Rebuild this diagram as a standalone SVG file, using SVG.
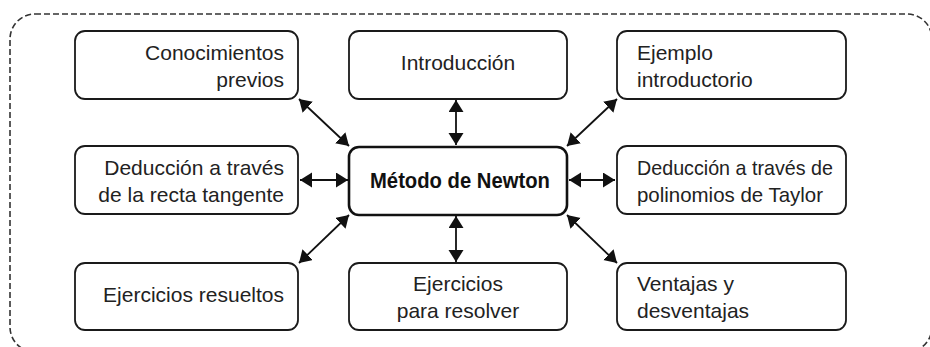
<svg xmlns="http://www.w3.org/2000/svg" width="930" height="347" viewBox="0 0 930 347">
<defs>
<style>
.frame{fill:none;stroke:#333;stroke-width:1.6;stroke-dasharray:6 3}
.box{fill:#fff;stroke:#1a1a1a;stroke-width:1.8}
.main{fill:#fff;stroke:#111;stroke-width:2.6}
.t{font-family:"Liberation Sans",Arial,sans-serif;font-size:21px;fill:#222}
.b{font-family:"Liberation Sans",Arial,sans-serif;font-size:21.5px;font-weight:bold;fill:#111}
.r{text-anchor:end}
.c{text-anchor:middle}
.conn{stroke:#111;stroke-width:1.8;fill:none;marker-start:url(#ah);marker-end:url(#ah)}
</style>
<marker id="ah" markerUnits="userSpaceOnUse" markerWidth="13" markerHeight="16" refX="12" refY="7.5" orient="auto-start-reverse">
<path d="M0,0 L12,7.5 L0,15 z" fill="#111"/>
</marker>
</defs>
<rect class="frame" x="10" y="14" width="922" height="338" rx="25"/>
<g id="connectors">
<line class="conn" x1="299" y1="99" x2="349" y2="146"/>
<line class="conn" x1="456" y1="100" x2="456" y2="145"/>
<line class="conn" x1="617" y1="99" x2="567" y2="146"/>
<line class="conn" x1="300" y1="180" x2="348" y2="180"/>
<line class="conn" x1="569" y1="180" x2="615" y2="180"/>
<line class="conn" x1="349" y1="215" x2="299" y2="263"/>
<line class="conn" x1="456" y1="216" x2="456" y2="262"/>
<line class="conn" x1="567" y1="215" x2="617" y2="263"/>
</g>
<g id="conocimientos">
<rect class="box" x="75" y="31" width="223" height="68" rx="10"/>
<text class="t r" x="284" y="60">Conocimientos</text>
<text class="t r" x="284" y="87">previos</text>
</g>
<g id="introduccion">
<rect class="box" x="349" y="31" width="218" height="68" rx="10"/>
<text class="t c" x="458" y="70">Introducción</text>
</g>
<g id="ejemplo">
<rect class="box" x="617" y="31" width="229" height="68" rx="10"/>
<text class="t" x="637" y="60">Ejemplo</text>
<text class="t" x="637" y="87">introductorio</text>
</g>
<g id="deduccion-tangente">
<rect class="box" x="75" y="146" width="223" height="68" rx="10"/>
<text class="t r" x="284" y="175">Deducción a través</text>
<text class="t r" x="284" y="202">de la recta tangente</text>
</g>
<g id="metodo">
<rect class="main" x="349" y="147" width="218" height="68" rx="10"/>
<text class="b c" x="460" y="188" textLength="180" lengthAdjust="spacingAndGlyphs">Método de Newton</text>
</g>
<g id="deduccion-taylor">
<rect class="box" x="617" y="146" width="229" height="68" rx="10"/>
<text class="t" x="637" y="175" textLength="196" lengthAdjust="spacingAndGlyphs">Deducción a través de</text>
<text class="t" x="637" y="202" textLength="186" lengthAdjust="spacingAndGlyphs">polinomios de Taylor</text>
</g>
<g id="resueltos">
<rect class="box" x="75" y="263" width="223" height="67" rx="10"/>
<text class="t r" x="284" y="302">Ejercicios resueltos</text>
</g>
<g id="para-resolver">
<rect class="box" x="349" y="263" width="218" height="67" rx="10"/>
<text class="t c" x="458" y="291">Ejercicios</text>
<text class="t c" x="458" y="318">para resolver</text>
</g>
<g id="ventajas">
<rect class="box" x="617" y="263" width="229" height="67" rx="10"/>
<text class="t" x="637" y="291">Ventajas y</text>
<text class="t" x="637" y="318">desventajas</text>
</g>
</svg>
